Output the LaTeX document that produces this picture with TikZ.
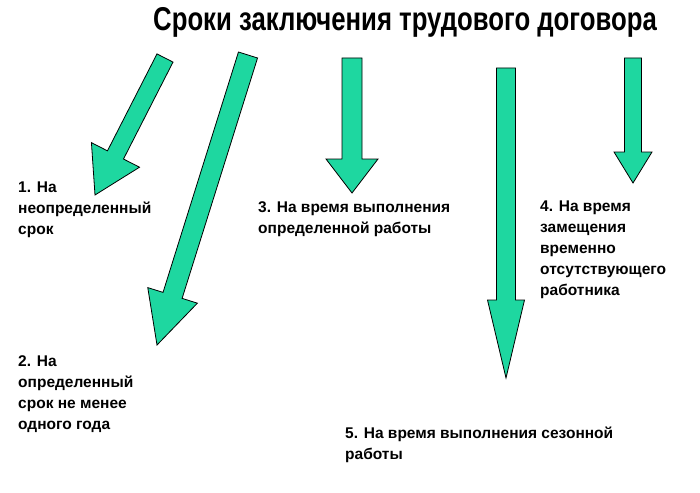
\documentclass[tikz,border=0pt]{standalone}
\usepackage{fontspec}
\setmainfont{Liberation Sans}
\usetikzlibrary{calc}
\definecolor{garr}{RGB}{30,215,160}
\tikzset{lbl/.style={anchor=north west,align=left,inner sep=0pt,font=\fontsize{15.5pt}{21pt}\selectfont\bfseries},
garrow/.style={fill=garr,draw=black,line width=0.8pt,line join=miter}}
\newcommand{\garrowpath}[5]{% start, tip, half shaft, half head, head length
\draw[garrow] ($(#1)!#3pt!-90:(#2)$) -- ($($(#2)!#5pt!(#1)$)!#3pt!-90:(#2)$) -- ($($(#2)!#5pt!(#1)$)!#4pt!-90:(#2)$) -- (#2)
 -- ($($(#2)!#5pt!(#1)$)!#4pt!90:(#2)$) -- ($($(#2)!#5pt!(#1)$)!#3pt!90:(#2)$) -- ($(#1)!#3pt!90:(#2)$) -- cycle;}
\begin{document}
\begin{tikzpicture}[x=1pt,y=-1pt]
\useasboundingbox (0,0) rectangle (700,492);
\node[font=\bfseries\fontsize{33pt}{35pt}\selectfont,xscale=0.78,inner sep=0pt] (title) at (405,22) {Сроки заключения трудового договора};
\coordinate (a1s) at (165,58); \coordinate (a1t) at (95,195);
\coordinate (a2s) at (248,55); \coordinate (a2t) at (157,345);
\coordinate (a3s) at (352,58); \coordinate (a3t) at (352,193);
\coordinate (a4s) at (633,58); \coordinate (a4t) at (633,183);
\coordinate (a5s) at (506,68); \coordinate (a5t) at (506,378);
\garrowpath{a1s}{a1t}{9}{27}{45}
\garrowpath{a2s}{a2t}{10}{26}{52}
\garrowpath{a3s}{a3t}{10}{26}{34}
\garrowpath{a4s}{a4t}{8.5}{19}{31}
\garrowpath{a5s}{a5t}{9.5}{18.5}{78}
\node[lbl] (t1) at (18,182) {1. На\\неопределенный\\срок};
\node[lbl] (t2) at (18,355) {2. На\\определенный\\срок не менее\\одного года};
\node[lbl] (t3) at (258,201) {3. На время выполнения\\определенной работы};
\node[lbl] (t4) at (540,201) {4. На время\\замещения\\временно\\отсутствующего\\работника};
\node[lbl] (t5) at (345,427) {5. На время выполнения сезонной\\работы};
\end{tikzpicture}
\end{document}
